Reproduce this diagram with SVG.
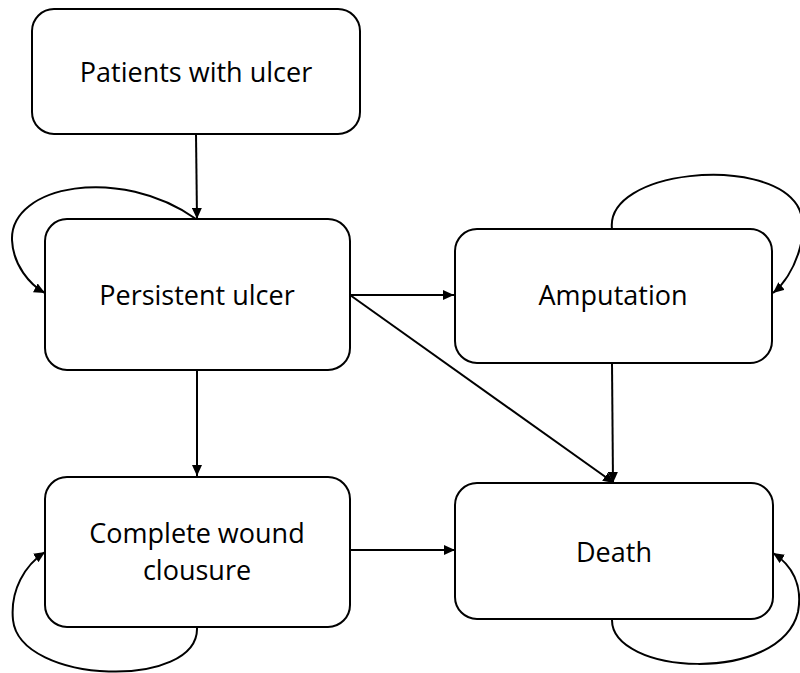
<svg xmlns="http://www.w3.org/2000/svg" width="800" height="673" viewBox="0 0 800 673">
<defs>
<marker id="ah" markerUnits="userSpaceOnUse" markerWidth="12" markerHeight="10" refX="11" refY="5" orient="auto">
<path d="M0,0 L11,5 L0,10 z" fill="#000"/>
</marker>
<style>
.box{fill:#fff;stroke:#000;stroke-width:2}
.lbl{font-family:"Open Sans","Noto Sans",sans-serif;font-size:27px;fill:#000;text-anchor:middle}
.c{fill:none;stroke:#000;stroke-width:2;marker-end:url(#ah)}
</style>
</defs>
<rect width="800" height="673" fill="#fff"/>
<g id="connectors">
<path class="c" d="M196,134 L197,219"/>
<path class="c" d="M196,219 C120,165 10,185 12,240 C13,265 30,285 45,293"/>
<path class="c" d="M350,295 L454,295"/>
<path class="c" d="M350,295 L614,483"/>
<path class="c" d="M612,363 L613,483"/>
<path class="c" d="M612,229 C605,170 765,155 797,205 C812,230 795,275 773,293"/>
<path class="c" d="M197,627 C200,690 20,685 13,620 C10,590 25,565 45,552"/>
<path class="c" d="M197,370 L197,476"/>
<path class="c" d="M350,550 L455,550"/>
<path class="c" d="M612,619 C610,675 780,685 798,612 C803,585 792,565 773,553"/>
</g>
<g id="patients"><rect class="box" x="32" y="9" width="328" height="125" rx="22"/><text class="lbl" x="196" y="82">Patients with ulcer</text></g>
<g id="persistent"><rect class="box" x="45" y="219" width="305" height="151" rx="22"/><text class="lbl" x="197" y="305">Persistent ulcer</text></g>
<g id="amputation"><rect class="box" x="455" y="229" width="317" height="134" rx="22"/><text class="lbl" x="613" y="305">Amputation</text></g>
<g id="complete"><rect class="box" x="45" y="477" width="305" height="150" rx="22"/><text class="lbl" x="197" y="543">Complete wound</text><text class="lbl" x="197" y="580">clousure</text></g>
<g id="death"><rect class="box" x="455" y="483" width="318" height="136" rx="22"/><text class="lbl" x="614" y="562">Death</text></g>
</svg>
